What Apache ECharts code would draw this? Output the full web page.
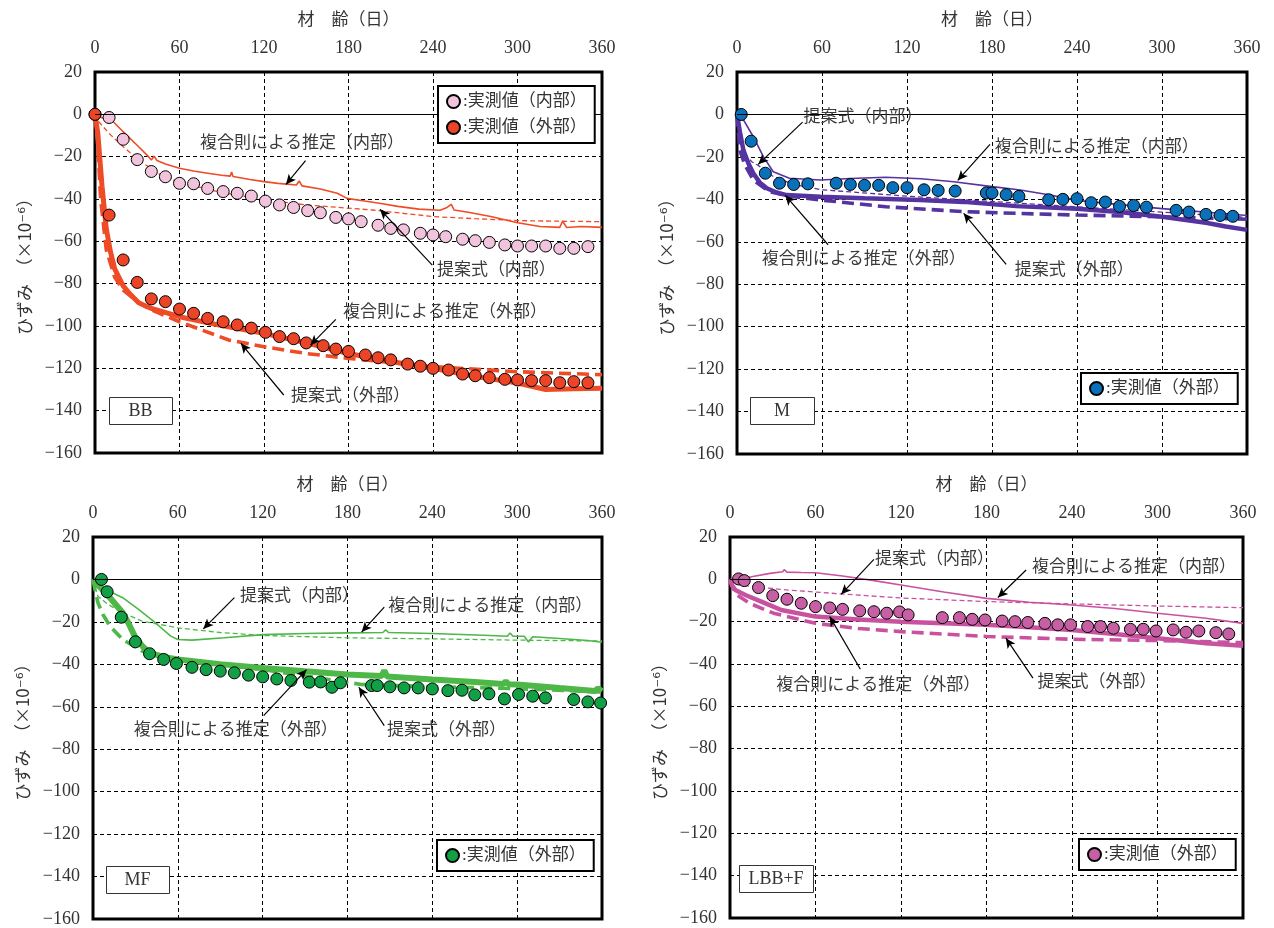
<!DOCTYPE html>
<html>
<head>
<meta charset="utf-8">
<script src="https://cdn.jsdelivr.net/npm/echarts@6/dist/echarts.min.js"></script>
<style>
  html, body { margin: 0; padding: 0; background: #fff; }
  #wrap { position: relative; width: 1274px; height: 928px; }
  .panel { position: absolute; width: 637px; height: 464px; }
</style>
</head>
<body>
<div id="wrap">
  <div id="p1" class="panel" style="left:0;top:0"></div>
  <div id="p2" class="panel" style="left:637px;top:0"></div>
  <div id="p3" class="panel" style="left:0;top:464px"></div>
  <div id="p4" class="panel" style="left:637px;top:464px"></div>
</div>
<script>
// 軸の目盛（材齢：日、ひずみ：×10^-6）
const dayTicks = [0, 60, 120, 180, 240, 300, 360];
const strainTicks = [20, 0, -20, -40, -60, -80, -100, -120, -140, -160];

// ---- BB ---- [材齢, ひずみ]
const bbMeasIn = [[0,0],[10,-1.5],[20,-11.8],[30,-21.4],[40,-27],[50,-29.5],[60,-32.6],[70,-32.8],[80,-35],[91,-36.5],[101,-37.3],[111,-38.6],[121,-41],[131,-42.8],[141,-44],[151,-45.5],[160,-46.5],[171,-48.7],[180,-49.4],[189,-50.7],[201,-52.4],[210,-53.9],[219,-54.6],[231,-56.2],[240,-57],[249,-57.8],[261,-59],[270,-59.7],[280,-60.5],[291,-61.7],[300,-62.2],[310,-62.2],[320,-62.2],[330,-63.3],[340,-63.3],[350,-62.5]];
const bbMeasOut = [[0,0],[10,-47.6],[20,-68.8],[30,-79.4],[40,-87.2],[50,-88.5],[60,-92],[70,-94],[80,-96.4],[91,-98],[101,-99.5],[111,-101],[121,-103],[131,-105],[141,-106],[150,-108],[162,-109.3],[171,-110.9],[180,-112],[192,-113.7],[201,-115],[210,-116],[222,-118],[231,-119],[240,-120],[251,-120.8],[261,-122.7],[270,-123.5],[280,-124.4],[291,-125.2],[300,-125.5],[310,-125.8],[320,-125.8],[330,-126.8],[340,-126.3],[350,-126.8]];
const bbRuleIn = [[0,0],[3,-1],[8,-2.5],[13,-3.5],[20,-8.2],[31,-15.3],[38,-20],[40,-21.6],[42,-19.8],[44,-21.8],[50,-23.5],[60,-25.5],[70,-26.8],[80,-27.8],[90,-28.8],[96,-29.2],[97,-27.2],[98,-29.4],[110,-30.8],[120,-31.8],[130,-32.6],[143,-33.4],[145,-31.5],[147,-33.8],[160,-35.3],[172,-37.3],[179,-39.7],[190,-40.8],[202,-42],[215,-43.5],[230,-44.8],[245,-45.3],[250,-44],[253,-42.5],[255,-45.2],[265,-46.3],[281,-48.3],[300,-51.2],[316,-53],[330,-53.4],[332,-50.5],[335,-53.5],[345,-53],[360,-53.4]];
const bbPropIn = [[0,0],[1.5,-2.5],[3.6,-4.2],[10,-9],[20,-15.3],[31,-21.6],[45,-28],[60,-32.2],[90,-37],[120,-40.3],[150,-42.8],[197,-45.2],[240,-48.3],[270,-49.3],[300,-50.2],[330,-50.5],[360,-50.7]];
const bbRuleOut = [[0,0],[2,-9],[5,-34],[8,-54],[11,-65],[14,-73],[20,-81],[25,-85],[31,-89],[40,-91.7],[60,-95.6],[90,-99.8],[120,-103.5],[150,-108],[180,-113],[210,-116.8],[240,-120],[270,-123.8],[300,-127],[320,-130],[340,-129.6],[360,-129.4]];
const bbPropOut = [[0,0],[2,-15],[4,-40],[8,-64],[14,-77],[20,-83],[30,-88.5],[40,-92.4],[60,-98],[95,-106.6],[120,-109.8],[150,-113],[180,-115.3],[240,-119.2],[300,-121.6],[360,-123]];
// 注記 [文字, 文字位置x, y, 矢印始点x, y, 矢印先端x, y]
const bbNotes = [
  ['複合則による推定（内部）', 147, -13.6, 149.5, -21.9, 135.6, -33.1],
  ['提案式（内部）', 285, -74, 239.5, -71.2, 202.4, -44.9],
  ['複合則による推定（外部）', 248.5, -93.8, 171, -96.9, 153, -109],
  ['提案式（外部）', 181.5, -133.4, 134, -132.6, 103.6, -108.2]
];

// ---- M ----
const mMeasOut = [[3,0],[10,-12.6],[20,-27.7],[30,-32.4],[40,-33],[50,-32.7],[70,-32.4],[80,-33],[90,-33.4],[100,-33.4],[110,-34.5],[120,-34.5],[132,-35.5],[142,-35.8],[154,-36.1],[176,-37],[180,-37],[190,-37.8],[199,-38.6],[220,-40.2],[230,-40],[240,-39.7],[250,-41.6],[260,-41.3],[270,-43.3],[280,-42.9],[289,-43.7],[310,-45.2],[319,-46],[331,-47.1],[341,-47.6],[350,-48]];
const mRuleIn = [[0,0],[5,-3],[11.5,-10.5],[18.6,-19.9],[25.6,-27],[37,-30.1],[59,-30.9],[80,-30.2],[105,-29.6],[130,-30.3],[153,-31.7],[180,-34],[200,-35.6],[220,-37.8],[240,-40.5],[270,-42.5],[300,-44.4],[330,-46],[360,-47.6]];
const mPropIn = [[0,0],[2,-12],[6,-19],[10.4,-22.3],[15,-24],[25,-29],[40,-33],[60,-35.5],[120,-38.5],[180,-41],[240,-43.5],[300,-46],[360,-48.5]];
const mRuleOut = [[0,0],[2,-8],[4.5,-16.8],[8,-23],[11.5,-27.7],[16,-32],[21,-34.8],[28,-36.8],[35,-38],[59,-38.8],[90,-39.5],[129,-40.3],[160,-41.2],[197,-43.2],[240,-44.4],[270,-46],[300,-48.2],[331,-51],[345,-52.8],[360,-54.4]];
const mPropOut = [[0,0],[1,-8],[2,-16.8],[5.6,-23.8],[11.5,-30.9],[23,-36.4],[40,-38.8],[59,-40.3],[105,-43.5],[160,-45.8],[197,-46.6],[240,-47.4],[300,-48.2],[360,-49.4]];
const mNotes = [
  ['提案式（内部）', 89, -1.5, 46.3, -3.6, 15, -23.5],
  ['複合則による推定（内部）', 254, -15.6, 178.6, -14.1, 155.8, -31.1],
  ['複合則による推定（外部）', 89.5, -68.3, 64.3, -61.4, 34.1, -38.1],
  ['提案式（外部）', 238, -73.5, 190, -70.6, 160, -46.6]
];

// ---- MF ----
const mfMeasOut = [[6,0],[10,-5.8],[20,-17.8],[30,-29.4],[40,-35],[50,-37.7],[59,-39.6],[70,-41.4],[80,-42.5],[90,-43.2],[100,-44],[110,-45.1],[120,-45.9],[130,-46.9],[140,-47.6],[153,-48.4],[161,-48.3],[169,-50.8],[175,-48.7],[197,-50],[201,-50],[210,-50.6],[220,-51.1],[230,-51.1],[240,-51.6],[251,-52.4],[261,-52.2],[270,-54.4],[280,-53.9],[291,-56.3],[301,-54.2],[311,-55],[320,-55.8],[340,-56.6],[350,-57.7],[359,-58.2]];
const mfRuleIn = [[0,0],[4,-2],[9,-4.7],[21,-8.6],[32,-14],[44,-20.4],[55,-26.7],[60,-28.3],[70,-28.6],[93,-27.5],[120,-26],[150,-25.5],[180,-25.2],[205,-25],[207,-23.8],[209,-25],[240,-25.5],[281,-26.4],[293,-26.8],[295,-25.2],[297,-26.8],[305,-26.8],[308,-29.5],[311,-27],[330,-27.8],[350,-28.8],[360,-29.6]];
const mfPropIn = [[0,0],[1.5,-4],[3.5,-7.9],[10,-11.5],[21,-15.7],[35,-19.7],[60,-22.8],[90,-25],[120,-26.4],[180,-27.5],[240,-28],[300,-28.6],[360,-29]];
const mfRuleOut = [[0,0],[4,-3],[9,-6.3],[15,-11],[21,-15.7],[25,-20.5],[29.5,-26.7],[35,-31.5],[40,-34.6],[50,-36.5],[60,-37.7],[90,-39.9],[120,-41.7],[150,-43.3],[180,-44.8],[204,-45.5],[206,-43],[208,-45.7],[240,-47.2],[270,-48.3],[290,-49.3],[292,-48],[294,-49.4],[300,-49.5],[330,-51.2],[355,-52.6],[357,-51.3],[360,-52.7]];
const mfPropOut = [[0,0],[1.5,-5],[3.5,-11],[7,-16.5],[12,-22],[21,-28.3],[35,-33.8],[60,-37.7],[90,-40.2],[120,-42.5],[150,-45.5],[180,-48.5],[190,-49.5],[240,-50.5],[300,-51.5],[360,-53]];
const mfNotes = [
  ['提案式（内部）', 146, -8, 100, -8.6, 78, -23.3],
  ['複合則による推定（内部）', 281, -12.7, 206, -13, 190, -24.8],
  ['複合則による推定（外部）', 101, -71.2, 120.7, -64.2, 151, -42.5],
  ['提案式（外部）', 250, -71.2, 206, -68.9, 188, -50.8]
];

// ---- LBB+F ----
const lbMeasOut = [[6,0.2],[10,-0.6],[20,-3.9],[30,-7.7],[40,-9.4],[50,-11.3],[60,-12.9],[70,-13.5],[79,-14.2],[91,-14.9],[101,-15.3],[110,-16],[119,-15.4],[125,-16.8],[149,-18.1],[161,-18.1],[170,-18.9],[179,-19.2],[191,-19.7],[200,-20],[209,-20.4],[221,-20.8],[230,-21.5],[239,-21.5],[251,-22.3],[260,-22.3],[269,-23.1],[281,-23.6],[290,-23.6],[299,-24.4],[311,-23.9],[320,-25],[329,-24.4],[341,-25.2],[350,-25.8]];
const lbRuleIn = [[0,0],[5,-0.3],[16,1.3],[28,2.8],[37,3.6],[38,4.6],[40,3.4],[50,3.2],[60,3.1],[79,1.6],[100,-0.5],[120,-2.7],[150,-6],[180,-9],[210,-10.8],[240,-12.1],[270,-13.8],[300,-16],[334,-18.4],[360,-20.8]];
const lbPropIn = [[0,0],[3,-2],[10,-3],[22,-3.8],[40,-5],[60,-6],[78,-6.9],[120,-8.8],[180,-10.5],[240,-11.6],[300,-12.6],[360,-13.4]];
const lbRuleOut = [[0,0],[1.5,-3],[3.7,-5],[10.8,-7.4],[22,-10.5],[36,-14.5],[60,-17.6],[90,-19],[120,-20],[150,-20.8],[180,-21.5],[210,-22.6],[240,-23.9],[270,-25.8],[300,-27.8],[334,-30.2],[360,-31.4]];
const lbPropOut = [[0,0],[2,-4],[5,-7.4],[13.6,-11.3],[30.6,-16],[60,-20.8],[90,-23.2],[120,-24.7],[180,-27],[240,-28.3],[300,-28.9],[360,-29.9]];
const lbNotes = [
  ['提案式（内部）', 143.5, 9.4, 101, 9.4, 78, -7.1],
  ['複合則による推定（内部）', 283.5, 5.8, 207.8, 4.4, 188, -8.6],
  ['複合則による推定（外部）', 104, -50.3, 91.5, -42.5, 70, -17.6],
  ['提案式（外部）', 257.5, -48.7, 212.6, -46.7, 193.6, -27.8]
];

const FONT = "'Liberation Serif', 'Noto Sans CJK JP', serif";
const TXT = '#333';

/**
 * 1枚のパネルを描く
 */
function drawPanel(domId, p) {
  const chart = echarts.init(document.getElementById(domId));

  const line = (data, width, dashed) => ({
    type: 'line',
    data: data,
    symbol: 'none',
    smooth: false,
    z: 2,
    lineStyle: { color: p.lineColor, width: width, type: dashed ? (width > 2 ? [12, 6] : [5, 3]) : 'solid' },
    silent: true
  });

  const series = [];
  // 複合則による推定（内部）＋注記
  const ruleIn = line(p.ruleIn, 1.6, false);
  ruleIn.markLine = {
    silent: true,
    symbol: ['none', 'arrow'],
    symbolSize: [7, 10],
    label: { show: false },
    lineStyle: { color: '#000', width: 1.2, type: 'solid' },
    data: p.notes.map(n => [{ coord: [n[3], n[4]] }, { coord: [n[5], n[6]] }])
  };
  ruleIn.markPoint = {
    silent: true,
    symbol: 'circle',
    symbolSize: 1,
    itemStyle: { color: 'rgba(0,0,0,0)' },
    label: { show: true, position: 'inside', color: '#3a3a3a', fontSize: 17, fontFamily: FONT, formatter: d => d.name },
    data: p.notes.map(n => ({ name: n[0], coord: [n[1], n[2]] }))
  };
  series.push(ruleIn);
  // 提案式（内部）＋ゼロ線
  const propIn = line(p.propIn, 1.3, true);
  propIn.markLine = {
    silent: true, symbol: 'none', label: { show: false },
    lineStyle: { color: '#000', width: 1, type: 'solid' },
    data: [{ yAxis: 0 }]
  };
  series.push(propIn);
  series.push(line(p.ruleOut, p.thick, false));
  series.push(line(p.propOut, 3.6, true));

  // 実測値
  p.measured.forEach(m => {
    series.push({
      type: 'scatter',
      name: m.name,
      data: m.data,
      symbol: 'circle',
      symbolSize: 12,
      z: 4,
      itemStyle: { color: m.color, borderColor: '#000', borderWidth: 1, opacity: 1 }
    });
  });

  chart.setOption({
    animation: false,
    grid: {
      left: p.grid[0], top: p.grid[1], width: p.grid[2], height: p.grid[3],
      show: true, borderColor: '#000', borderWidth: 3, backgroundColor: '#fff'
    },
    xAxis: {
      type: 'value', position: 'top',
      min: dayTicks[0], max: dayTicks[dayTicks.length - 1], interval: dayTicks[1] - dayTicks[0],
      name: '材　齢（日）', nameLocation: 'middle', nameGap: 43,
      nameTextStyle: { color: TXT, fontSize: 17, fontFamily: FONT },
      axisLine: { show: false }, axisTick: { show: false },
      axisLabel: { color: TXT, fontSize: 18, fontFamily: FONT, margin: 15 },
      splitLine: { show: true, lineStyle: { color: '#000', width: 1, type: [4, 3] } }
    },
    yAxis: {
      type: 'value',
      min: strainTicks[strainTicks.length - 1], max: strainTicks[0], interval: strainTicks[0] - strainTicks[1],
      name: 'ひずみ　（×10⁻⁶）', nameLocation: 'middle', nameGap: 62, nameRotate: 90,
      nameTextStyle: { color: TXT, fontSize: 17, fontFamily: "'Noto Sans CJK JP', 'DejaVu Sans', sans-serif" },
      axisLine: { show: false }, axisTick: { show: false },
      axisLabel: { color: TXT, fontSize: 18, fontFamily: FONT, margin: 13, formatter: v => String(v).replace('-', '−') },
      splitLine: { show: true, lineStyle: { color: '#000', width: 1, type: [4, 3] } }
    },
    legend: {
      data: p.measured.map(m => m.name),
      orient: 'vertical',
      left: p.legendPos[0], top: p.legendPos[1],
      padding: [7, 8], itemGap: 9, itemWidth: 13, itemHeight: 13,
      backgroundColor: '#fff', borderColor: '#000', borderWidth: 2, borderRadius: 0,
      textStyle: { color: TXT, fontSize: 17, fontFamily: FONT, padding: [0, 0, 0, -2] },
      selectedMode: false, z: 10
    },
    graphic: [
      {
        type: 'rect', left: p.tag.x, top: p.tag.y, z: 100, zlevel: 1,
        shape: { x: 0, y: 0, width: p.tag.w, height: 27 },
        style: { fill: '#fff', stroke: '#333', lineWidth: 1 }
      },
      {
        type: 'text', z: 101, zlevel: 1,
        x: p.grid[0] * 0 + p.tag.x + p.tag.w / 2, y: p.tag.y + 14,
        style: { text: p.tag.text, fill: TXT, font: '18px ' + FONT, align: 'center', verticalAlign: 'middle' }
      }
    ],
    series: series
  });
  return chart;
}

drawPanel('p1', {
  grid: [95, 72, 507, 381], lineColor: '#EF4B26', thick: 5,
  ruleIn: bbRuleIn, propIn: bbPropIn, ruleOut: bbRuleOut, propOut: bbPropOut, notes: bbNotes,
  measured: [
    { name: ':実測値（内部）', data: bbMeasIn, color: '#F1C3DC' },
    { name: ':実測値（外部）', data: bbMeasOut, color: '#EB4426' }
  ],
  legendPos: [438, 86], tag: { text: 'BB', x: 109, y: 397, w: 63 }
});

drawPanel('p2', {
  grid: [100, 72, 510, 382], lineColor: '#5533A0', thick: 4.5,
  ruleIn: mRuleIn, propIn: mPropIn, ruleOut: mRuleOut, propOut: mPropOut, notes: mNotes,
  measured: [{ name: ':実測値（外部）', data: mMeasOut, color: '#0B70BA' }],
  legendPos: [444, 373], tag: { text: 'M', x: 113, y: 397, w: 64 }
});

drawPanel('p3', {
  grid: [93, 73, 509, 383], lineColor: '#4DB848', thick: 6,
  ruleIn: mfRuleIn, propIn: mfPropIn, ruleOut: mfRuleOut, propOut: mfPropOut, notes: mfNotes,
  measured: [{ name: ':実測値（外部）', data: mfMeasOut, color: '#12A046' }],
  legendPos: [437, 376], tag: { text: 'MF', x: 106, y: 402, w: 63 }
});

drawPanel('p4', {
  grid: [93, 73, 513, 381], lineColor: '#C8529F', thick: 4.5,
  ruleIn: lbRuleIn, propIn: lbPropIn, ruleOut: lbRuleOut, propOut: lbPropOut, notes: lbNotes,
  measured: [{ name: ':実測値（外部）', data: lbMeasOut, color: '#C65FA4' }],
  legendPos: [442, 375], tag: { text: 'LBB+F', x: 102, y: 401, w: 74 }
});
</script>
</body>
</html>
